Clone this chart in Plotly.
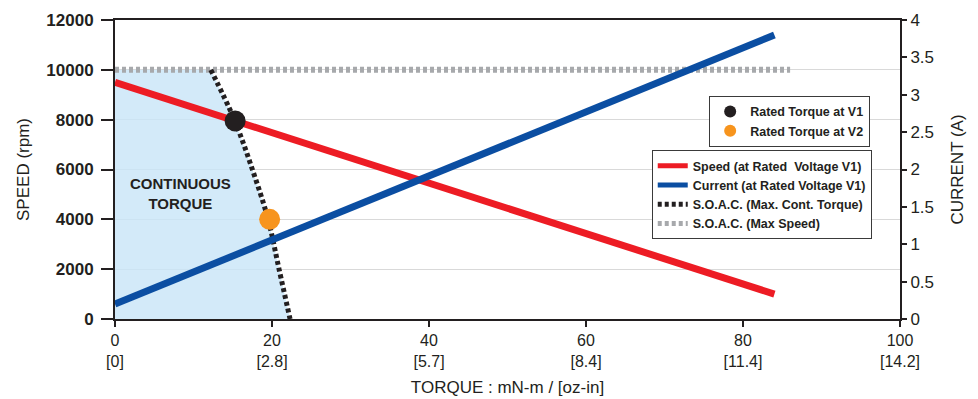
import plotly.graph_objects as go

# Motor characteristic data (torque in mN-m)
speed_torque = [0, 84]
speed_rpm = [9500, 1000]

current_torque = [0, 84]
current_amp = [0.2, 3.8]

# Safe operating area: max continuous torque boundary
soac_speed = [10000, 8000, 6000, 4000, 2000, 0]
soac_torque = [12.2, 15.2, 17.5, 19.5, 20.9, 22.3]

# Safe operating area: max speed
max_speed_torque = [0, 86]
max_speed_rpm = [10000, 10000]

# Rated operating points
rated_v1 = (15.3, 7950)
rated_v2 = (19.7, 4000)

x_ticks = [0, 20, 40, 60, 80, 100]
x_tick_oz = ["0", "2.8", "5.7", "8.4", "11.4", "14.2"]
y_ticks = [0, 2000, 4000, 6000, 8000, 10000, 12000]
y2_ticks = [0, 0.5, 1, 1.5, 2, 2.5, 3, 3.5, 4]

FONT = "Liberation Sans Narrow, Arial Narrow, Liberation Sans, sans-serif"
INK = "#231f20"

fig = go.Figure()

# Continuous-torque region
fill_x = [0, 0] + soac_torque
fill_y = [0, 10000] + soac_speed
fig.add_trace(go.Scatter(
    x=fill_x, y=fill_y, fill="toself", mode="none",
    fillcolor="rgba(200,229,247,0.8)", showlegend=False, hoverinfo="skip"))

fig.add_trace(go.Scatter(
    x=max_speed_torque, y=max_speed_rpm, mode="lines",
    line=dict(color="#a7a9ac", width=6, dash="4px,3px"),
    name="S.O.A.C. (Max Speed)", legend="legend2", legendrank=4))

fig.add_trace(go.Scatter(
    x=soac_torque, y=soac_speed, mode="lines",
    line=dict(color="#231f20", width=5, dash="4px,3px", shape="spline"),
    name="S.O.A.C. (Max. Cont. Torque)", legend="legend2", legendrank=3))

fig.add_trace(go.Scatter(
    x=speed_torque, y=speed_rpm, mode="lines",
    line=dict(color="#ed1c24", width=7),
    name="Speed (at Rated  Voltage V1)", legend="legend2", legendrank=1))

fig.add_trace(go.Scatter(
    x=current_torque, y=current_amp, mode="lines", yaxis="y2",
    line=dict(color="#0b4ea2", width=7),
    name="Current (at Rated Voltage V1)", legend="legend2", legendrank=2))

fig.add_trace(go.Scatter(
    x=[rated_v1[0]], y=[rated_v1[1]], mode="markers",
    marker=dict(color="#231f20", size=21),
    name="Rated Torque at V1", legend="legend", legendrank=1))

fig.add_trace(go.Scatter(
    x=[rated_v2[0]], y=[rated_v2[1]], mode="markers",
    marker=dict(color="#f7941d", size=21),
    name="Rated Torque at V2", legend="legend", legendrank=2))

fig.add_annotation(
    x=8.3, y=5050, text="CONTINUOUS<br>TORQUE", showarrow=False,
    font=dict(family=FONT, size=15, color=INK, weight="bold"))

legend_style = dict(
    bgcolor="white", bordercolor="#3a3a3a", borderwidth=1,
    font=dict(family=FONT, size=12.5, color=INK, weight="bold"),
    xanchor="right", yanchor="top", tracegroupgap=0,
    itemsizing="constant", itemwidth=30)

fig.update_layout(
    width=978, height=399,
    margin=dict(l=115, r=78, t=20, b=80),
    plot_bgcolor="white", paper_bgcolor="white",
    font=dict(family=FONT, color=INK),
    legend=dict(x=0.962, y=0.746, **legend_style),
    legend2=dict(x=0.964, y=0.565, **legend_style),
    xaxis=dict(
        range=[0, 100], tickvals=x_ticks,
        ticktext=[f"{t}<br>[{o}]" for t, o in zip(x_ticks, x_tick_oz)],
        tickfont=dict(family=FONT, size=16, color=INK),
        showgrid=False, zeroline=False, automargin=False,
        showline=True, linecolor=INK, linewidth=2, mirror=True,
        ticks="outside", ticklen=6, tickwidth=2, tickcolor=INK,
        title=dict(text="TORQUE : mN-m / [oz-in]", standoff=12,
                   font=dict(family=FONT, size=17, color=INK))),
    yaxis=dict(
        range=[0, 12000], tickvals=y_ticks, ticktext=[str(v) for v in y_ticks],
        tickfont=dict(family=FONT, size=17, color=INK, weight="bold"),
        showgrid=True, gridcolor="#d9d9d9", gridwidth=1, zeroline=False,
        showline=True, linecolor=INK, linewidth=2, automargin=False,
        ticks="outside", ticklen=12, tickwidth=2, tickcolor=INK,
        ticklabelstandoff=4,
        title=dict(text="SPEED (rpm)", standoff=12,
                   font=dict(family=FONT, size=17, color=INK))),
    yaxis2=dict(
        range=[0, 4], tickvals=y2_ticks, ticktext=[f"{v:g}" for v in y2_ticks],
        overlaying="y", side="right", automargin=False,
        tickfont=dict(family=FONT, size=17, color=INK),
        showgrid=False, zeroline=False,
        showline=True, linecolor=INK, linewidth=2,
        ticks="outside", ticklen=5, tickwidth=2, tickcolor=INK,
        title=dict(text="CURRENT (A)", standoff=18,
                   font=dict(family=FONT, size=17, color=INK))),
)

fig.write_html("out.html")
